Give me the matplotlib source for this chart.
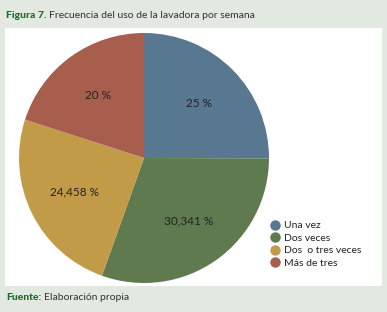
import matplotlib
matplotlib.use("Agg")
import matplotlib.pyplot as plt
from matplotlib.patches import Rectangle
from matplotlib.lines import Line2D
import numpy as np

plt.rcParams['font.family'] = ['Lato', 'DejaVu Sans']

categories = ["Una vez", "Dos veces", "Dos  o tres veces", "Más de tres"]
values = [25, 30.341, 24.458, 20]
labels = ["25 %", "30,341 %", "24,458 %", "20 %"]
colors = ["#587891", "#5f7a4f", "#c29b48", "#a85e4d"]

W, H = 387, 312
fig = plt.figure(figsize=(W / 100, H / 100), dpi=100)
fig.patch.set_facecolor("#e2e9e1")

# white panel
fig.patches.append(Rectangle((5 / W, 1 - 286 / H), 377 / W, 258 / H,
                             transform=fig.transFigure, facecolor="white",
                             edgecolor="none", zorder=0))

ax = fig.add_axes([19 / W, 1 - 283 / H, 250 / W, 250 / H])
ax.set_zorder(2)
ax.set_facecolor("none")
wedges, _ = ax.pie(values, colors=colors, startangle=90, counterclock=False,
                   radius=1, wedgeprops=dict(linewidth=0))
for w, lab in zip(wedges, labels):
    mid = np.deg2rad((w.theta1 + w.theta2) / 2)
    r = 0.62
    ax.text(r * np.cos(mid), r * np.sin(mid), lab, ha="center", va="center",
            fontsize=8.5, color="#222222")
ax.set_xlim(-1, 1)
ax.set_ylim(-1, 1)
ax.set_aspect("equal")
ax.axis("off")

handles = [Line2D([], [], marker="o", linestyle="none", markersize=6.5,
                  markerfacecolor=c, markeredgecolor=c) for c in colors]
leg = fig.legend(handles, categories, loc="upper left",
                 bbox_to_anchor=(266 / W, 1 - 217 / H), frameon=False,
                 fontsize=7.5, handletextpad=0.3, labelspacing=0.3,
                 borderaxespad=0, handlelength=1.0, labelcolor="#222222")
leg.set_zorder(3)

# title
green = "#1b6b2c"
t1 = fig.text(6 / W, 1 - 15 / H, "Figura 7.", fontsize=7.5, fontweight="black",
              color=green, va="center", ha="left")
fig.canvas.draw()
bb = t1.get_window_extent()
fig.text((bb.x1 + 3) / W, 1 - 15 / H, "Frecuencia del uso de la lavadora por semana",
         fontsize=7.5, color="#333333", va="center", ha="left")

f1 = fig.text(6 / W, 1 - 297 / H, "Fuente:", fontsize=7.5, fontweight="black",
              color=green, va="center", ha="left")
fig.canvas.draw()
bb = f1.get_window_extent()
fig.text((bb.x1 + 3) / W, 1 - 297 / H, "Elaboración propia",
         fontsize=7.5, color="#333333", va="center", ha="left")

fig.savefig("out.png", dpi=100, facecolor=fig.get_facecolor())
